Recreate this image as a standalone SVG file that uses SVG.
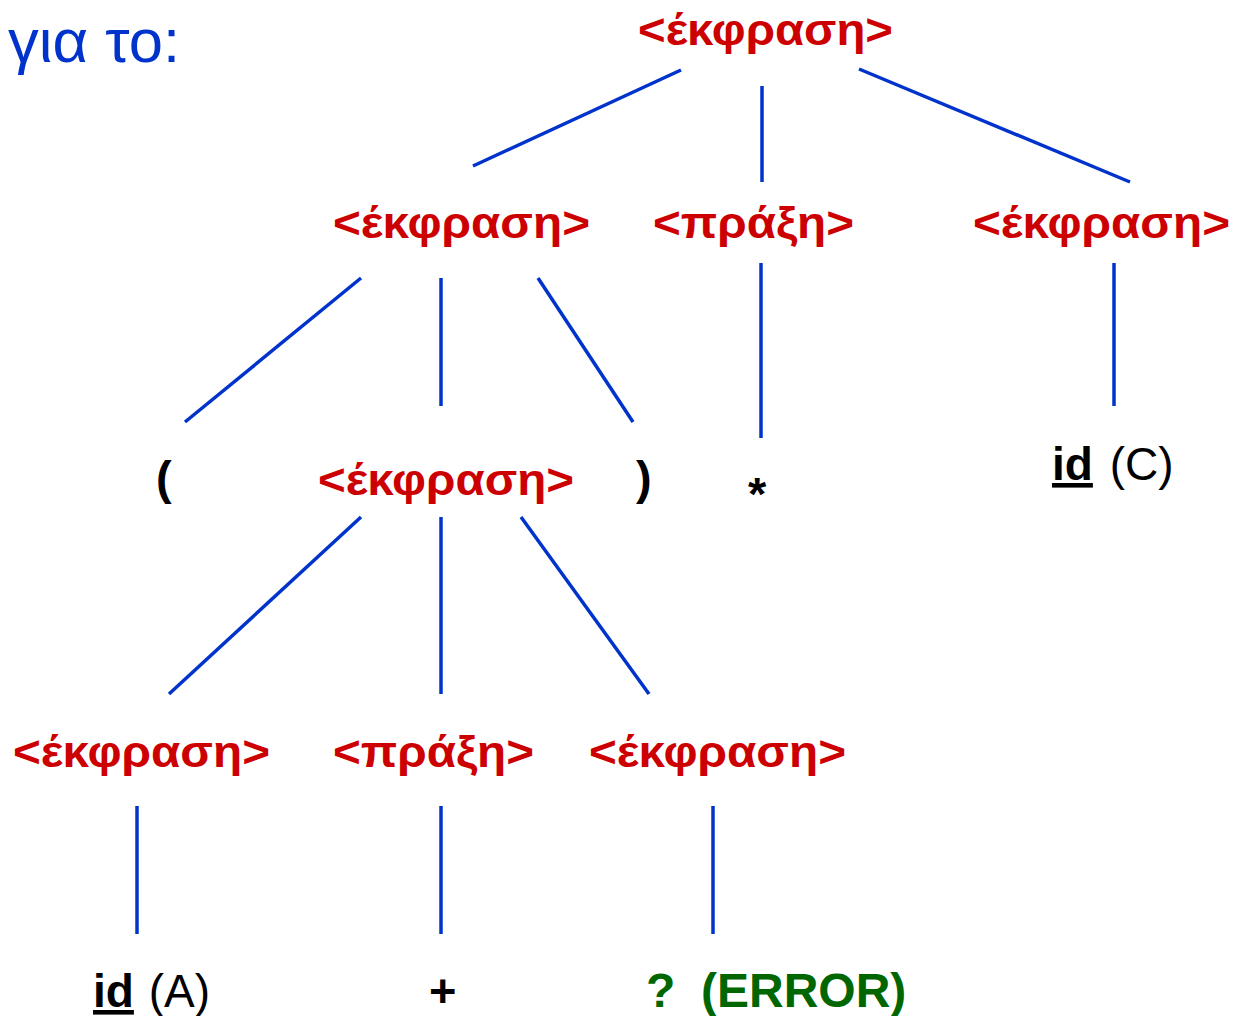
<svg xmlns="http://www.w3.org/2000/svg" width="1236" height="1016" viewBox="0 0 1236 1016">
<style>
.nt{font-family:"Liberation Sans",Arial,sans-serif;font-weight:bold;font-size:44px;fill:#cc0000}
.tk{font-family:"Liberation Sans",Arial,sans-serif;font-weight:bold;font-size:47px;fill:#000}
.rg{font-family:"Liberation Sans",Arial,sans-serif;font-weight:normal;font-size:46px;fill:#000}
.er{font-family:"Liberation Sans",Arial,sans-serif;font-weight:bold;font-size:48px;fill:#006600}
.ttl{font-family:"Liberation Sans",Arial,sans-serif;font-size:62px;fill:#0033cc}
.ed{stroke:#0033cc;stroke-width:3.5;fill:none}
.ul{text-decoration:underline}
</style>
<rect width="1236" height="1016" fill="#fff"/>
<text class="ttl" x="8" y="62" textLength="172" lengthAdjust="spacingAndGlyphs">για το:</text>
<g id="connectors">
<line class="ed" x1="681" y1="70" x2="473" y2="166"/>
<line class="ed" x1="762" y1="86" x2="762" y2="182"/>
<line class="ed" x1="859" y1="69" x2="1130" y2="182"/>
<line class="ed" x1="361" y1="278" x2="185" y2="422"/>
<line class="ed" x1="441" y1="278" x2="441" y2="406"/>
<line class="ed" x1="538" y1="278" x2="633" y2="422"/>
<line class="ed" x1="761" y1="263" x2="761" y2="438"/>
<line class="ed" x1="1114" y1="263" x2="1114" y2="406"/>
<line class="ed" x1="361" y1="517" x2="169" y2="694"/>
<line class="ed" x1="441" y1="517" x2="441" y2="694"/>
<line class="ed" x1="521" y1="517" x2="649" y2="694"/>
<line class="ed" x1="137" y1="806" x2="137" y2="934"/>
<line class="ed" x1="441" y1="806" x2="441" y2="934"/>
<line class="ed" x1="713" y1="806" x2="713" y2="934"/>
</g>
<g id="n_root"><text class="nt" x="638" y="45" textLength="255" lengthAdjust="spacingAndGlyphs">&lt;έκφραση&gt;</text></g>
<g id="n_e1"><text class="nt" x="333" y="238" textLength="257" lengthAdjust="spacingAndGlyphs">&lt;έκφραση&gt;</text></g>
<g id="n_op1"><text class="nt" x="653" y="238" textLength="201" lengthAdjust="spacingAndGlyphs">&lt;πράξη&gt;</text></g>
<g id="n_e2"><text class="nt" x="973" y="238" textLength="257" lengthAdjust="spacingAndGlyphs">&lt;έκφραση&gt;</text></g>
<g id="n_lp"><text class="tk" x="156" y="494">(</text></g>
<g id="n_e3"><text class="nt" x="318" y="495" textLength="256" lengthAdjust="spacingAndGlyphs">&lt;έκφραση&gt;</text></g>
<g id="n_rp"><text class="tk" x="636" y="494">)</text></g>
<g id="n_star"><text class="tk" x="748" y="510">*</text></g>
<g id="n_idC"><text class="rg" y="480"><tspan class="ul" x="1052" font-weight="bold">id</tspan><tspan x="1097"> (C)</tspan></text></g>
<g id="n_e4"><text class="nt" x="13" y="767" textLength="257" lengthAdjust="spacingAndGlyphs">&lt;έκφραση&gt;</text></g>
<g id="n_op2"><text class="nt" x="333" y="767" textLength="201" lengthAdjust="spacingAndGlyphs">&lt;πράξη&gt;</text></g>
<g id="n_e5"><text class="nt" x="589" y="767" textLength="257" lengthAdjust="spacingAndGlyphs">&lt;έκφραση&gt;</text></g>
<g id="n_idA"><text class="rg" y="1007"><tspan class="ul" x="93" font-weight="bold">id</tspan><tspan x="136"> (A)</tspan></text></g>
<g id="n_plus"><text class="tk" x="429" y="1007">+</text></g>
<g id="n_err"><text class="er" y="1007"><tspan x="646">? </tspan><tspan x="701">(ERROR)</tspan></text></g>
</svg>
